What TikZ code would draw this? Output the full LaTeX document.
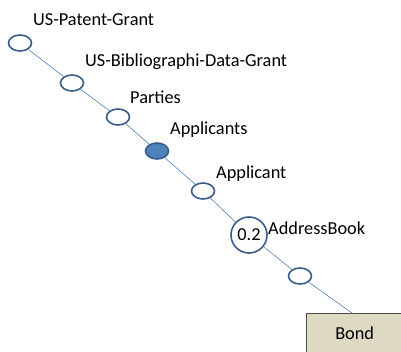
\documentclass[tikz,border=0pt]{standalone}
\usepackage{fontspec}
\setmainfont{Carlito}
\definecolor{edgeblue}{HTML}{4F81BD}
\definecolor{rimblue}{HTML}{385D8A}
\definecolor{bondfill}{HTML}{DDD9C3}
\tikzset{
    elem/.style={draw=rimblue,line width=1.6pt,ellipse,fill=white,minimum width=23pt,minimum height=16pt,inner sep=0pt},
    link/.style={draw=edgeblue,line width=0.6pt},
    tag/.style={anchor=west,inner sep=0pt,font=\fontsize{18.3}{21}\selectfont}
}
\usetikzlibrary{shapes.geometric}
\begin{document}
\begin{tikzpicture}[x=1pt,y=-1pt]
                \useasboundingbox (0,0) rectangle (401,351);
                %% path of elements
                \node[elem] (n1) at (20,43) {};
                \node[elem] (n2) at (72,83) {};
                \node[elem] (n3) at (118,117) {};
                \node[elem,fill=edgeblue] (n4) at (157,151) {};
                \node[elem] (n5) at (203,191) {};
                \node[draw=rimblue,line width=1.6pt,circle,fill=white,minimum size=36pt,inner sep=0pt,font=\fontsize{18.3}{21}\selectfont] (n6) at (249,235) {\raisebox{-3pt}{0.2}};
                \node[elem] (n7) at (300,276) {};
                \node[draw=black!70,fill=bondfill,minimum width=97pt,minimum height=40pt,anchor=north west,font=\fontsize{18.3}{21}\selectfont] (bond) at (306,313) {Bond};
                \coordinate (top) at (352,313);
                %% links
                \draw[link] (n1) -- (n2) (n2) -- (n3) (n3) -- (n4) (n4) -- (n5) (n5) -- (n6) (n6) -- (n7) (n7) -- (top);
                %% labels
                \node[tag] (t1) at (33,20) {US-Patent-Grant};
                \node[tag] (t2) at (85,62) {US-Bibliographi-Data-Grant};
                \node[tag] (t3) at (130,97) {Parties};
                \node[tag] (t4) at (170,130) {Applicants};
                \node[tag] (t5) at (216,174) {Applicant};
                \node[tag] (t6) at (268,228) {AddressBook};
            \end{tikzpicture}
\end{document}
